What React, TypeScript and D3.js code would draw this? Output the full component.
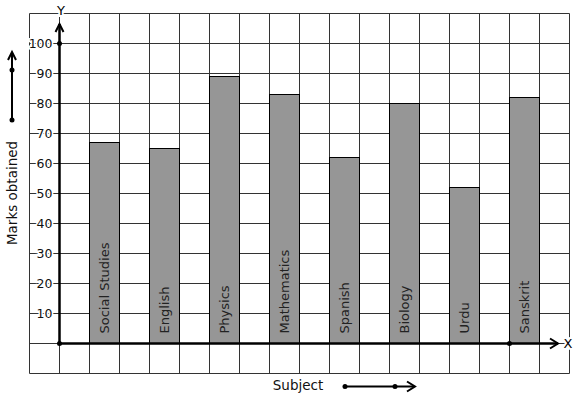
import React from "react";
import * as d3 from "d3";

const subjects = [
  "Social Studies",
  "English",
  "Physics",
  "Mathematics",
  "Spanish",
  "Biology",
  "Urdu",
  "Sanskrit",
];
const marks = [67, 65, 89, 83, 62, 80, 52, 82];
const yTicks = [10, 20, 30, 40, 50, 60, 70, 80, 90, 100];

const font = "DejaVu Sans, sans-serif";

const App = () => {
  const width = 577;
  const height = 399;

  // grid is 18 columns x 12 rows, 30px each
  const x = d3.scaleLinear().domain([0, 18]).range([29.5, 569.5]);
  const y = d3.scaleLinear().domain([-10, 110]).range([373.5, 13.5]);
  const band = d3
    .scaleBand()
    .domain(subjects)
    .range([x(1.5), x(17.5)])
    .paddingInner(0.5)
    .paddingOuter(0.25);

  const cols = d3.range(0, 19);
  const rows = d3.range(-10, 111, 10);
  const x0 = x(1);
  const y0 = y(0);

  return (
    <svg width={width} height={height} style={{ position: "absolute", left: 0, top: 0 }}>
      <rect width={width} height={height} fill="white" />
      <g stroke="#333" strokeWidth={1}>
        {cols.map((c) => (
          <line key={"c" + c} x1={x(c)} x2={x(c)} y1={y(110)} y2={y(-10)} />
        ))}
        {rows.map((r) => (
          <line key={"r" + r} x1={x(0)} x2={x(18)} y1={y(r)} y2={y(r)} />
        ))}
      </g>

      {subjects.map((s, i) => (
        <rect
          key={s}
          x={band(s)}
          y={y(marks[i])}
          width={band.bandwidth()}
          height={y0 - y(marks[i])}
          fill="#969696"
          stroke="#000"
          strokeWidth={1}
        />
      ))}

      {subjects.map((s) => (
        <text
          key={"l" + s}
          transform={`translate(${band(s)! + band.bandwidth() / 2},${y0 - 10}) rotate(-90)`}
          dominantBaseline="central"
          fontFamily={font}
          fontSize={13}
          fill="#222"
        >
          {s}
        </text>
      ))}

      {yTicks.map((t) => (
        <text
          key={"t" + t}
          x={52.5}
          y={y(t)}
          textAnchor="end"
          dominantBaseline="central"
          fontFamily={font}
          fontSize={12.5}
          fill="#111"
          stroke="white"
          strokeWidth={3}
          paintOrder="stroke"
        >
          {t}
        </text>
      ))}

      {/* axes */}
      <g stroke="#000" strokeWidth={2.5} fill="none">
        <line x1={x0} x2={x0} y1={y0} y2={24} />
        <polyline points={`${x0 - 4},32 ${x0},24 ${x0 + 4},32`} strokeWidth={2} />
        <line x1={x0} x2={558} y1={y0} y2={y0} />
        <polyline points={`550,${y0 - 5} 558,${y0} 550,${y0 + 5}`} strokeWidth={2} />
      </g>
      <g fill="#000">
        <circle cx={x0} cy={y0} r={2.5} />
        <circle cx={x0} cy={y(100)} r={2.5} />
        <circle cx={x(16)} cy={y0} r={2.5} />
      </g>
      <text
        x={61}
        y={10}
        textAnchor="middle"
        dominantBaseline="central"
        fontFamily={font}
        fontSize={13}
        stroke="white"
        strokeWidth={4}
        paintOrder="stroke"
      >
        Y
      </text>
      <text
        x={568}
        y={y0}
        textAnchor="middle"
        dominantBaseline="central"
        fontFamily={font}
        fontSize={13}
        stroke="white"
        strokeWidth={4}
        paintOrder="stroke"
      >
        X
      </text>

      {/* y title with arrow */}
      <text
        transform={`translate(12,193) rotate(-90)`}
        textAnchor="middle"
        dominantBaseline="central"
        fontFamily={font}
        fontSize={13.5}
        fill="#111"
      >
        Marks obtained
      </text>
      <g stroke="#000" strokeWidth={2} fill="none">
        <line x1={12} x2={12} y1={120} y2={53} />
        <polyline points="8,60 12,52 16,60" />
      </g>
      <circle cx={12} cy={70} r={2.5} fill="#000" />
      <circle cx={12} cy={120} r={2.5} fill="#000" />

      {/* x title with arrow */}
      <text x={298} y={385} textAnchor="middle" dominantBaseline="central" fontFamily={font} fontSize={13.5} fill="#111">
        Subject
      </text>
      <g stroke="#000" strokeWidth={2} fill="none">
        <line x1={345} x2={414} y1={386.5} y2={386.5} />
        <polyline points="407,381.5 415,386.5 407,391.5" />
      </g>
      <circle cx={345} cy={386.5} r={2.5} fill="#000" />
      <circle cx={395} cy={386.5} r={2.5} fill="#000" />
    </svg>
  );
};

export default App;
